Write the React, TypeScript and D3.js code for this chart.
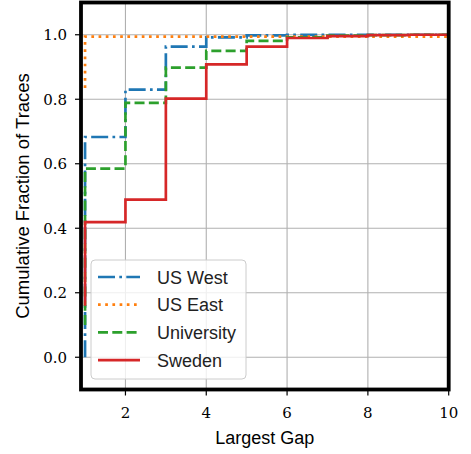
import { curveStepAfter, line, scaleLinear } from "d3";

const gaps = [1, 2, 3, 4, 5, 6, 7, 8, 9, 10];
const seriesNames = ["US West", "US East", "University", "Sweden"];
const seriesColors = ["#1f77b4", "#ff7f0e", "#2ca02c", "#d62728"];
const seriesDash = ["17,4.3,2.7,4.3", "2.7,4.5", "10,4.3", ""];
// value where each curve starts at the first gap
const startValues = [0.0, 0.835, 0.1, 0.16];
const usWest = [0.683, 0.83, 0.963, 0.992, 0.998, 1.0, 1.0, 1.0, 1.0, 1.0];
const usEast = [0.994, 0.994, 0.994, 0.994, 0.994, 0.994, 0.994, 0.994, 0.994, 0.994];
const university = [0.585, 0.789, 0.898, 0.95, 0.981, 0.992, 0.997, 0.999, 1.0, 1.0];
const sweden = [0.419, 0.489, 0.802, 0.908, 0.963, 0.99, 0.996, 0.999, 1.0, 1.0];
const xTicks = [2, 4, 6, 8, 10];
const yTicks = [0, 0.2, 0.4, 0.6, 0.8, 1.0];

export default function App() {
  const width = 471;
  const height = 454;
  const plot = { left: 81, right: 448.7, top: 2.5, bottom: 389.5 };

  const x = scaleLinear().domain([0.9, 10]).range([plot.left, plot.right]);
  const y = scaleLinear().domain([-0.1, 1.1]).range([plot.bottom, plot.top]);

  const stepLine = line<[number, number]>()
    .x((d) => x(d[0]))
    .y((d) => y(d[1]))
    .curve(curveStepAfter);

  const allSeries = [usWest, usEast, university, sweden];
  const paths = allSeries.map((vals, i) => {
    const pts: [number, number][] = [[gaps[0], startValues[i]], ...gaps.map((g, j) => [g, vals[j]] as [number, number])];
    return stepLine(pts) ?? "";
  });

  const tickFont = "DejaVu Serif, serif";
  const labelFont = "Liberation Sans, sans-serif";

  const legend = { x: 91, y: 260, w: 155, h: 119 };
  const legendRow = (i: number) => 277 + i * 27.7;

  return (
    <div style={{ position: "absolute", left: 0, top: 0 }}>
      <svg width={width} height={height} style={{ display: "block" }}>
        <defs>
          <clipPath id="plot-clip">
            <rect x={plot.left} y={plot.top} width={plot.right - plot.left} height={plot.bottom - plot.top} />
          </clipPath>
        </defs>
        <rect x={0} y={0} width={width} height={height} fill="#fff" />

        {/* grid */}
        <g stroke="#b0b0b0" strokeWidth={1.1}>
          {xTicks.map((t) => (
            <line key={"gx" + t} x1={x(t)} x2={x(t)} y1={plot.top} y2={plot.bottom} />
          ))}
          {yTicks.map((t) => (
            <line key={"gy" + t} x1={plot.left} x2={plot.right} y1={y(t)} y2={y(t)} />
          ))}
        </g>

        {/* ecdf curves */}
        <g clipPath="url(#plot-clip)" fill="none">
          {paths.map((d, i) => (
            <path
              key={seriesNames[i]}
              d={d}
              stroke={seriesColors[i]}
              strokeWidth={2.7}
              strokeDasharray={seriesDash[i] || undefined}
            />
          ))}
        </g>

        {/* frame */}
        <rect
          x={plot.left}
          y={plot.top}
          width={plot.right - plot.left}
          height={plot.bottom - plot.top}
          fill="none"
          stroke="#000"
          strokeWidth={3.8}
        />

        {/* x ticks */}
        <g>
          {xTicks.map((t) => (
            <g key={"xt" + t}>
              <line x1={x(t)} x2={x(t)} y1={plot.bottom} y2={plot.bottom + 6} stroke="#000" strokeWidth={1.2} />
              <text x={x(t)} y={418} textAnchor="middle" fontFamily={tickFont} fontSize={15} fill="#000">
                {t}
              </text>
            </g>
          ))}
        </g>

        {/* y ticks */}
        <g>
          {yTicks.map((t) => (
            <g key={"yt" + t}>
              <line x1={plot.left - 6} x2={plot.left} y1={y(t)} y2={y(t)} stroke="#000" strokeWidth={1.2} />
              <text x={67} y={y(t) + 5.5} textAnchor="end" fontFamily={tickFont} fontSize={15} fill="#000">
                {t.toFixed(1)}
              </text>
            </g>
          ))}
        </g>

        <text x={(plot.left + plot.right) / 2} y={444} textAnchor="middle" fontFamily={labelFont} fontSize={18} fill="#000">
          Largest Gap
        </text>
        <text
          transform={`translate(29,${(plot.top + plot.bottom) / 2}) rotate(-90)`}
          textAnchor="middle"
          fontFamily={labelFont}
          fontSize={18.5}
          fill="#000"
        >
          Cumulative Fraction of Traces
        </text>

        {/* legend */}
        <g>
          <rect
            x={legend.x}
            y={legend.y}
            width={legend.w}
            height={legend.h}
            rx={4}
            fill="#fff"
            fillOpacity={0.8}
            stroke="#cccccc"
            strokeWidth={1}
          />
          {seriesNames.map((name, i) => (
            <g key={"lg" + name}>
              <line
                x1={98}
                x2={140}
                y1={legendRow(i)}
                y2={legendRow(i)}
                stroke={seriesColors[i]}
                strokeWidth={2.7}
                strokeDasharray={seriesDash[i] || undefined}
              />
              <text x={157} y={legendRow(i) + 6.5} fontFamily={labelFont} fontSize={18} fill="#222">
                {name}
              </text>
            </g>
          ))}
        </g>
      </svg>
    </div>
  );
}
